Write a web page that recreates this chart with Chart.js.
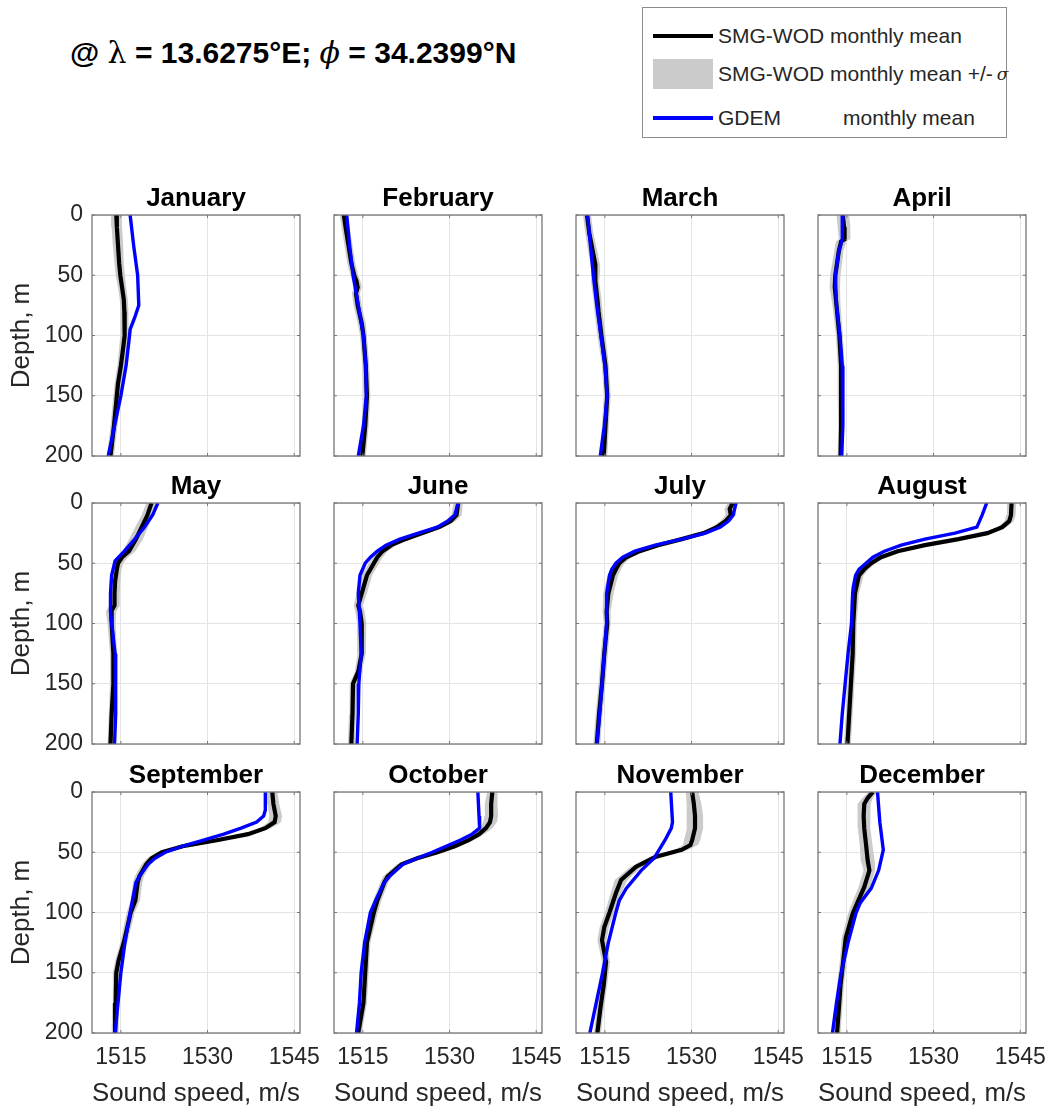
<!DOCTYPE html>
<html>
<head>
<meta charset="utf-8">
<title>Sound speed profiles</title>
<script src="https://cdn.jsdelivr.net/npm/chart.js@4.4.1/dist/chart.umd.min.js"></script>
<style>
  html, body { margin: 0; padding: 0; background: #fff; }
  body { position: relative; width: 1049px; height: 1106px; overflow: hidden; font-family: "Liberation Sans", Arial, sans-serif; color: #000; }
  #title { position: absolute; left: 70px; top: 35px; font-size: 30px; font-weight: bold; white-space: nowrap; }
  #title .sym { font-weight: normal; font-family: "DejaVu Serif", serif; }
  #legend { position: absolute; left: 642px; top: 7px; width: 365px; height: 131px; border: 1px solid #8c8c8c; box-sizing: border-box; background: #fff; }
  #legend .item { position: absolute; left: 10px; height: 30px; display: flex; align-items: center; font-size: 21px; white-space: nowrap; color: #262626; }
  #legend .line { width: 60px; height: 4px; margin-right: 5px; }
  #legend .patch { width: 60px; height: 30px; margin-right: 5px; background: #cbcbcb; }
  canvas { position: absolute; }
</style>
</head>
<body>
<div id="title">@ <span class="sym">λ</span> = 13.6275°E; <span class="sym"><i>ϕ</i></span> = 34.2399°N</div>
<div id="legend">
  <div class="item" style="top:13px"><div class="line" style="background:#000"></div>SMG-WOD monthly mean</div>
  <div class="item" style="top:51px"><div class="patch"></div>SMG-WOD monthly mean +/- <i style="font-family:'DejaVu Serif',serif;font-size:17px;margin-left:4px">σ</i></div>
  <div class="item" style="top:95px"><div class="line" style="background:#0000ff"></div>GDEM<span style="display:inline-block;width:62px"></span>monthly mean</div>
</div>
<script>
// ---- data (depth in m, sound speed in m/s) ----
const MONTHS = ["January", "February", "March", "April", "May", "June",
  "July", "August", "September", "October", "November", "December"];

const X_TICKS = [1515, 1530, 1545];
const Y_TICKS = [0, 50, 100, 150, 200];

// January
const janSmgDepth = [0, 10, 25, 40, 50, 60, 70, 80, 90, 100, 110, 125, 140, 150, 175, 200];
const janSmgSpeed = [1514.2, 1514.3, 1514.5, 1514.7, 1514.9, 1515.2, 1515.5, 1515.6, 1515.7, 1515.6, 1515.4, 1515.0, 1514.5, 1514.3, 1513.8, 1513.2];
const janSmgSigma = [0.9, 0.9, 0.9, 0.8, 0.8, 0.7, 0.7, 0.7, 0.7, 0.7, 0.7, 0.6, 0.6, 0.6, 0.6, 0.6];
const janGdemDepth = [0, 25, 50, 75, 85, 95, 100, 125, 150, 175, 200];
const janGdemSpeed = [1516.6, 1517.2, 1517.9, 1518.1, 1517.4, 1516.6, 1516.5, 1515.9, 1515.0, 1513.9, 1512.8];

// February
const febSmgDepth = [0, 10, 25, 40, 50, 55, 60, 65, 75, 90, 100, 125, 150, 175, 200];
const febSmgSpeed = [1511.7, 1512.0, 1512.5, 1513.0, 1513.5, 1513.9, 1514.1, 1513.8, 1514.1, 1514.8, 1515.1, 1515.5, 1515.7, 1515.4, 1514.9];
const febSmgSigma = [0.7, 0.7, 0.7, 0.7, 0.7, 0.7, 0.7, 0.7, 0.7, 0.7, 0.6, 0.6, 0.6, 0.6, 0.6];
const febGdemDepth = [0, 25, 50, 75, 100, 125, 150, 175, 200];
const febGdemSpeed = [1512.2, 1512.7, 1513.3, 1514.2, 1515.1, 1515.5, 1515.6, 1515.1, 1514.2];

// March
const marSmgDepth = [0, 15, 30, 40, 45, 55, 70, 80, 100, 125, 150, 175, 200];
const marSmgSpeed = [1511.9, 1512.3, 1512.9, 1513.3, 1513.4, 1513.3, 1513.7, 1513.9, 1514.4, 1515.1, 1515.4, 1515.1, 1514.8];
const marSmgSigma = [0.7, 0.7, 0.8, 0.8, 0.8, 0.7, 0.7, 0.7, 0.7, 0.6, 0.6, 0.6, 0.6];
const marGdemDepth = [0, 25, 50, 75, 100, 125, 150, 175, 200];
const marGdemSpeed = [1512.0, 1512.5, 1513.0, 1513.6, 1514.3, 1515.0, 1515.4, 1514.9, 1514.2];

// April
const aprSmgDepth = [0, 10, 20, 22, 30, 50, 60, 75, 100, 125, 150, 175, 200];
const aprSmgSpeed = [1514.3, 1514.5, 1514.6, 1514.0, 1513.6, 1513.0, 1512.9, 1513.2, 1513.7, 1514.0, 1514.0, 1514.0, 1513.9];
const aprSmgSigma = [1.1, 1.1, 1.0, 0.9, 0.8, 0.9, 0.9, 0.7, 0.6, 0.6, 0.6, 0.5, 0.5];
const aprGdemDepth = [0, 20, 30, 50, 75, 100, 125, 150, 175, 200];
const aprGdemSpeed = [1514.3, 1514.2, 1513.6, 1513.0, 1513.2, 1513.8, 1514.2, 1514.3, 1514.3, 1514.1];

// May
const maySmgDepth = [0, 10, 20, 30, 40, 45, 50, 55, 65, 75, 85, 90, 100, 125, 150, 175, 200];
const maySmgSpeed = [1520.3, 1519.6, 1518.6, 1517.6, 1516.4, 1515.2, 1514.5, 1514.3, 1514.0, 1513.9, 1513.9, 1513.3, 1513.4, 1513.7, 1513.7, 1513.4, 1513.2];
const maySmgSigma = [0.9, 1.0, 1.1, 1.2, 1.1, 1.0, 0.9, 0.8, 0.9, 0.9, 0.9, 0.9, 0.7, 0.6, 0.6, 0.5, 0.5];
const mayGdemDepth = [0, 10, 20, 30, 40, 48, 60, 75, 90, 100, 125, 150, 175, 200];
const mayGdemSpeed = [1521.4, 1520.5, 1519.1, 1517.4, 1515.6, 1514.0, 1513.4, 1513.2, 1513.2, 1513.4, 1514.0, 1514.1, 1514.1, 1513.9];

// June
const junSmgDepth = [0, 10, 15, 20, 25, 30, 35, 40, 45, 50, 60, 75, 85, 90, 100, 125, 140, 150, 175, 200];
const junSmgSpeed = [1531.5, 1531.2, 1530.2, 1528.2, 1525.3, 1522.3, 1519.9, 1518.4, 1517.5, 1516.9, 1515.7, 1514.8, 1514.2, 1514.5, 1514.8, 1514.8, 1514.2, 1513.3, 1513.2, 1513.0];
const junSmgSigma = [0.8, 0.9, 0.9, 0.9, 0.9, 0.9, 0.9, 0.9, 0.9, 0.9, 0.9, 0.9, 0.8, 0.8, 0.8, 0.7, 0.6, 0.6, 0.6, 0.6];
const junGdemDepth = [0, 10, 15, 20, 25, 30, 35, 40, 45, 50, 60, 75, 100, 125, 150, 175, 200];
const junGdemSpeed = [1531.5, 1530.9, 1529.7, 1527.9, 1524.6, 1521.4, 1519.0, 1517.5, 1516.3, 1515.4, 1514.5, 1514.2, 1514.5, 1514.7, 1514.3, 1514.2, 1514.0];

// July
const julSmgDepth = [0, 5, 10, 15, 20, 25, 30, 35, 40, 45, 50, 55, 60, 75, 90, 100, 125, 150, 175, 200];
const julSmgSpeed = [1537.1, 1536.6, 1536.8, 1535.9, 1534.4, 1532.1, 1528.3, 1524.2, 1521.0, 1518.7, 1517.5, 1516.9, 1516.4, 1515.6, 1515.3, 1515.4, 1514.9, 1514.5, 1514.0, 1513.6];
const julSmgSigma = [0.8, 0.9, 0.9, 0.9, 0.9, 0.9, 0.9, 0.9, 0.9, 0.9, 0.9, 0.9, 0.9, 0.9, 0.7, 0.6, 0.6, 0.6, 0.6, 0.6];
const julGdemDepth = [0, 10, 15, 20, 25, 30, 35, 40, 45, 50, 55, 60, 75, 100, 125, 150, 175, 200];
const julGdemSpeed = [1537.7, 1537.2, 1536.4, 1535.0, 1532.4, 1528.3, 1523.7, 1520.2, 1518.1, 1516.9, 1516.2, 1515.8, 1515.3, 1515.3, 1514.9, 1514.5, 1514.1, 1513.6];

// August
const augSmgDepth = [0, 10, 15, 20, 25, 30, 35, 40, 45, 50, 55, 60, 75, 100, 125, 150, 175, 200];
const augSmgSpeed = [1543.5, 1543.4, 1543.1, 1541.9, 1539.3, 1534.3, 1528.5, 1523.8, 1520.9, 1519.2, 1518.0, 1517.1, 1516.4, 1516.1, 1516.0, 1515.7, 1515.4, 1515.1];
const augSmgSigma = [0.8, 0.8, 0.8, 0.8, 0.8, 0.8, 0.8, 0.8, 0.8, 0.8, 0.8, 0.8, 0.7, 0.6, 0.6, 0.6, 0.6, 0.6];
const augGdemDepth = [0, 10, 20, 25, 30, 35, 40, 45, 50, 55, 60, 70, 75, 100, 125, 150, 175, 200];
const augGdemSpeed = [1539.2, 1538.4, 1537.5, 1533.7, 1528.5, 1524.4, 1521.5, 1519.5, 1518.3, 1517.1, 1516.5, 1516.1, 1516.0, 1515.8, 1515.2, 1514.7, 1514.2, 1513.8];

// September
const sepSmgDepth = [0, 10, 20, 25, 30, 35, 40, 45, 50, 55, 60, 70, 75, 90, 100, 125, 140, 150, 175, 200];
const sepSmgSpeed = [1541.2, 1541.4, 1541.8, 1541.6, 1540.0, 1537.0, 1531.6, 1525.7, 1522.1, 1520.3, 1519.4, 1518.2, 1517.9, 1517.5, 1516.7, 1515.5, 1514.6, 1514.2, 1514.1, 1514.0];
const sepSmgSigma = [0.9, 1.0, 1.1, 1.1, 1.0, 0.9, 0.9, 0.9, 0.9, 0.8, 0.8, 0.8, 0.8, 0.8, 0.7, 0.6, 0.6, 0.6, 0.6, 0.6];
const sepGdemDepth = [0, 15, 20, 25, 30, 35, 40, 45, 50, 55, 60, 70, 75, 100, 125, 150, 175, 200];
const sepGdemSpeed = [1540.0, 1540.0, 1539.7, 1538.5, 1535.8, 1532.8, 1529.3, 1525.7, 1522.7, 1520.9, 1519.7, 1518.2, 1517.6, 1516.6, 1515.7, 1515.0, 1514.5, 1514.0];

// October
const octSmgDepth = [0, 10, 20, 25, 30, 35, 40, 45, 50, 55, 60, 70, 75, 90, 100, 125, 150, 175, 200];
const octSmgSpeed = [1537.4, 1537.2, 1537.2, 1537.0, 1536.3, 1535.1, 1533.3, 1530.9, 1527.9, 1524.4, 1521.7, 1519.3, 1518.7, 1517.5, 1516.9, 1515.7, 1515.4, 1515.1, 1514.2];
const octSmgSigma = [0.9, 1.1, 1.2, 1.2, 1.1, 0.9, 0.8, 0.8, 0.8, 0.8, 0.8, 0.8, 0.7, 0.7, 0.7, 0.6, 0.6, 0.6, 0.6];
const octGdemDepth = [0, 10, 20, 30, 35, 40, 45, 50, 55, 60, 70, 75, 90, 100, 125, 150, 175, 200];
const octGdemSpeed = [1534.9, 1535.0, 1535.1, 1535.2, 1533.9, 1531.8, 1529.4, 1527.0, 1524.4, 1521.9, 1519.6, 1518.7, 1517.2, 1516.3, 1515.3, 1514.7, 1514.4, 1513.9];

// November
const novSmgDepth = [0, 10, 20, 30, 40, 44, 48, 54, 62, 73, 84, 100, 112, 123, 141, 160, 180, 200];
const novSmgSpeed = [1530.1, 1530.4, 1530.6, 1530.6, 1530.1, 1529.8, 1528.3, 1523.7, 1520.4, 1517.8, 1516.9, 1515.8, 1514.9, 1514.5, 1515.2, 1514.8, 1514.2, 1513.7];
const novSmgSigma = [1.1, 1.3, 1.4, 1.4, 1.4, 1.3, 1.1, 0.9, 1.0, 1.1, 0.9, 0.8, 0.8, 0.8, 0.7, 0.6, 0.6, 0.6];
const novGdemDepth = [0, 25, 30, 40, 55, 65, 80, 90, 100, 125, 150, 175, 200];
const novGdemSpeed = [1526.4, 1526.7, 1526.5, 1525.4, 1523.5, 1521.3, 1518.7, 1517.5, 1516.9, 1515.6, 1514.6, 1513.5, 1512.4];

// December
const decSmgDepth = [0, 5, 10, 20, 30, 43, 57, 65, 79, 92, 101, 121, 139, 160, 200];
const decSmgSpeed = [1519.5, 1518.6, 1518.0, 1517.9, 1518.0, 1518.3, 1518.6, 1518.9, 1518.0, 1516.8, 1516.0, 1514.8, 1514.4, 1513.9, 1513.3];
const decSmgSigma = [0.7, 0.9, 1.1, 1.1, 1.1, 1.1, 1.2, 1.0, 1.0, 0.9, 0.8, 0.7, 0.6, 0.6, 0.6];
const decGdemDepth = [0, 25, 48, 65, 80, 92, 100, 125, 150, 175, 200];
const decGdemSpeed = [1520.3, 1520.7, 1521.3, 1520.5, 1519.2, 1517.3, 1516.6, 1515.2, 1514.0, 1513.2, 1512.5];

const smgDepths = [janSmgDepth, febSmgDepth, marSmgDepth, aprSmgDepth, maySmgDepth, junSmgDepth,
  julSmgDepth, augSmgDepth, sepSmgDepth, octSmgDepth, novSmgDepth, decSmgDepth];
const smgSpeeds = [janSmgSpeed, febSmgSpeed, marSmgSpeed, aprSmgSpeed, maySmgSpeed, junSmgSpeed,
  julSmgSpeed, augSmgSpeed, sepSmgSpeed, octSmgSpeed, novSmgSpeed, decSmgSpeed];
const smgSigmas = [janSmgSigma, febSmgSigma, marSmgSigma, aprSmgSigma, maySmgSigma, junSmgSigma,
  julSmgSigma, augSmgSigma, sepSmgSigma, octSmgSigma, novSmgSigma, decSmgSigma];
const gdemDepths = [janGdemDepth, febGdemDepth, marGdemDepth, aprGdemDepth, mayGdemDepth, junGdemDepth,
  julGdemDepth, augGdemDepth, sepGdemDepth, octGdemDepth, novGdemDepth, decGdemDepth];
const gdemSpeeds = [janGdemSpeed, febGdemSpeed, marGdemSpeed, aprGdemSpeed, mayGdemSpeed, junGdemSpeed,
  julGdemSpeed, augGdemSpeed, sepGdemSpeed, octGdemSpeed, novGdemSpeed, decGdemSpeed];

// ---- layout ----
const PANEL_LEFT = [92, 334, 576, 818];
const PANEL_TOP = [215, 503, 792];
const PLOT_W = 208, PLOT_H = 241;
const AXIS_W = 92, TITLE_H = 40, XAXIS_H = 74, RIGHT_PAD = 23;
const TEXT = "#262626";

// box around every plot area with small inward ticks, like MATLAB "box on"
const framePlugin = {
  id: "frame",
  afterDatasetsDraw(chart) {
    const { ctx, chartArea: a, scales } = chart;
    ctx.save();
    ctx.strokeStyle = "#777";
    ctx.lineWidth = 1.3;
    ctx.strokeRect(a.left, a.top, a.right - a.left, a.bottom - a.top);
    ctx.lineWidth = 1;
    ctx.beginPath();
    X_TICKS.forEach(v => {
      const px = scales.x.getPixelForValue(v);
      ctx.moveTo(px, a.bottom); ctx.lineTo(px, a.bottom - 3);
      ctx.moveTo(px, a.top); ctx.lineTo(px, a.top + 3);
    });
    Y_TICKS.forEach(v => {
      const py = scales.y.getPixelForValue(v);
      ctx.moveTo(a.left, py); ctx.lineTo(a.left + 3, py);
      ctx.moveTo(a.right, py); ctx.lineTo(a.right - 3, py);
    });
    ctx.stroke();
    ctx.restore();
  }
};

function pts(speeds, depths, offs, sign) {
  return depths.map((d, k) => ({ x: speeds[k] + (offs ? sign * offs[k] : 0), y: d }));
}

function makePanel(i) {
  const col = i % 4, row = Math.floor(i / 4);
  const canvas = document.createElement("canvas");
  canvas.width = AXIS_W + PLOT_W + RIGHT_PAD;
  canvas.height = TITLE_H + PLOT_H + XAXIS_H;
  canvas.style.left = (PANEL_LEFT[col] - AXIS_W) + "px";
  canvas.style.top = (PANEL_TOP[row] - TITLE_H) + "px";
  document.body.appendChild(canvas);

  const firstCol = col === 0, lastRow = row === 2;

  new Chart(canvas.getContext("2d"), {
    type: "line",
    data: {
      datasets: [
        { // GDEM on top
          data: pts(gdemSpeeds[i], gdemDepths[i]),
          borderColor: "#0000ff", borderWidth: 3.4, pointRadius: 0, fill: false
        },
        {
          data: pts(smgSpeeds[i], smgDepths[i]),
          borderColor: "#000", borderWidth: 4.2, pointRadius: 0, fill: false
        },
        { // mean + sigma, filled across to mean - sigma
          data: pts(smgSpeeds[i], smgDepths[i], smgSigmas[i], 1),
          borderWidth: 0, borderColor: "rgba(0,0,0,0)", pointRadius: 0,
          backgroundColor: "#cbcbcb", fill: "+1"
        },
        {
          data: pts(smgSpeeds[i], smgDepths[i], smgSigmas[i], -1),
          borderWidth: 0, borderColor: "rgba(0,0,0,0)", pointRadius: 0, fill: false
        }
      ]
    },
    options: {
      responsive: false,
      animation: false,
      indexAxis: "y",
      events: [],
      layout: { padding: { left: 0, right: RIGHT_PAD, top: 0, bottom: 0 } },
      elements: { line: { tension: 0 } },
      scales: {
        x: {
          type: "linear", position: "bottom", min: 1510, max: 1546,
          afterBuildTicks: s => { s.ticks = X_TICKS.map(v => ({ value: v })); },
          afterFit: s => { s.height = XAXIS_H; s.paddingLeft = 0; s.paddingRight = 0; },
          grid: { color: "#e4e4e4", lineWidth: 1, drawTicks: false },
          border: { display: false },
          ticks: {
            display: lastRow, color: TEXT, padding: 11,
            font: { family: "Liberation Sans", size: 23, lineHeight: 1.2 },
            callback: v => String(v)
          },
          title: {
            display: lastRow, text: "Sound speed, m/s", color: TEXT,
            font: { family: "Liberation Sans", size: 26, lineHeight: 1 },
            padding: { top: 0, bottom: 0 }
          }
        },
        y: {
          type: "linear", position: "left", min: 0, max: 200, reverse: true,
          afterBuildTicks: s => { s.ticks = Y_TICKS.map(v => ({ value: v })); },
          afterFit: s => { s.width = AXIS_W; s.paddingTop = 0; s.paddingBottom = 0; },
          grid: { color: "#e4e4e4", lineWidth: 1, drawTicks: false },
          border: { display: false },
          ticks: {
            display: firstCol, color: TEXT, padding: 9,
            font: { family: "Liberation Sans", size: 23, lineHeight: 1.2 },
            callback: v => String(v)
          },
          title: {
            display: firstCol, text: "Depth, m", color: TEXT,
            font: { family: "Liberation Sans", size: 26, lineHeight: 1 },
            padding: { top: 9, bottom: 0 }
          }
        }
      },
      plugins: {
        legend: { display: false },
        tooltip: { enabled: false },
        title: {
          display: true, text: MONTHS[i], color: "#000", fullSize: false,
          font: { family: "Liberation Sans", size: 26, weight: "bold", lineHeight: 1.2 },
          padding: { top: 8.4, bottom: 0.4 }
        }
      }
    },
    plugins: [framePlugin]
  });
}

MONTHS.forEach((m, i) => makePanel(i));
</script>
</body>
</html>
